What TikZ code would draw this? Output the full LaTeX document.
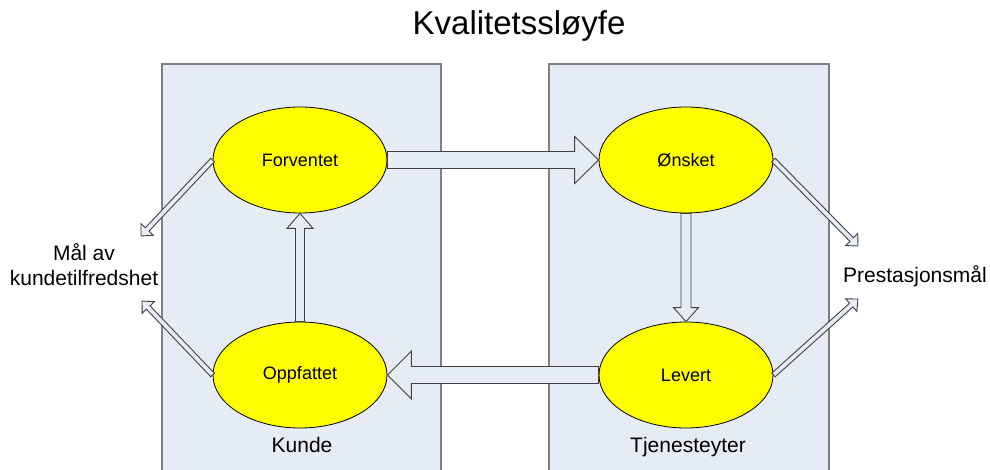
\documentclass[tikz,border=0pt]{standalone}
\usepackage{fontspec}
\setmainfont{Liberation Sans}
\usetikzlibrary{shapes.geometric,calc}

\definecolor{panelfill}{HTML}{E6ECF6}
\definecolor{panelline}{HTML}{808080}
\definecolor{arrowline}{HTML}{404040}
\definecolor{bubble}{HTML}{FFFF00}

\tikzset{
  panel/.style={draw=panelline, line width=1.2pt, fill=panelfill},
  bubblenode/.style={ellipse, draw=black, line width=0.8pt, fill=bubble,
    minimum width=174pt, minimum height=106pt, inner sep=0pt,
    font=\fontsize{18}{21}\selectfont},
  labeltext/.style={font=\fontsize{21}{25}\selectfont, inner sep=0pt, align=center},
  blockarrowstyle/.style={draw=arrowline, line width=0.9pt, fill=panelfill, line join=miter},
}

% Block arrow from #1 to #2: shaft half-width #3, head half-width #4, head length #5
\newcommand\blockarrow[5]{%
  \path[blockarrowstyle] let \p1=(#1), \p2=(#2),
      \n1={atan2(\y2-\y1,\x2-\x1)}, \n2={veclen(\x2-\x1,\y2-\y1)} in
    [shift={(\p1)}, rotate=\n1]
    (0,#3) -- ({\n2-#5},#3) -- ({\n2-#5},#4) -- ({\n2},0)
    -- ({\n2-#5},-#4) -- ({\n2-#5},-#3) -- (0,-#3) -- cycle;
}

\begin{document}
\begin{tikzpicture}[x=1pt,y=-1pt]
\useasboundingbox (0,0) rectangle (990,470);
\begin{scope}
\clip (0,0) rectangle (990,470);

% two role panels
\draw[panel] (162,64) rectangle (441,480);
\draw[panel] (549,64) rectangle (829,480);

% title
\node[font=\fontsize{33}{38}\selectfont, inner sep=0pt, anchor=base] (title) at (519,35) {Kvalitetssløyfe};

% the four expectation bubbles
\node[bubblenode] (forv) at (300,160) {Forventet};
\node[bubblenode] (onsk) at (686,160) {Ønsket};
\node[bubblenode] (oppf) at (300,375) {Oppfattet};
\node[bubblenode] (levr) at (686,375) {Levert};

% side labels
\node[labeltext, anchor=base] (kunde) at (302,452) {Kunde};
\node[labeltext, anchor=base] (tjen) at (688,452) {Tjenesteyter};
\node[labeltext] (maal) at (84,265) {Mål av\\kundetilfredshet};
\node[labeltext, anchor=base west] (prest) at (843,283) {Prestasjonsmål};

% free ends of the diagonal arrows
\coordinate (maalA) at (141,236);
\coordinate (maalB) at (142,301);
\coordinate (prestA) at (858,246);
\coordinate (prestB) at (858,299);

% wide block arrows around the loop
\blockarrow{forv.east}{onsk.west}{8.5}{23.5}{24}
\blockarrow{levr.west}{oppf.east}{8.5}{24}{24}
\blockarrow{onsk.south}{levr.north}{5}{12.5}{14}
\blockarrow{oppf.north}{forv.south}{4.5}{13}{15}

% thin arrows to the measures
\blockarrow{forv.west}{maalA}{2.5}{8.5}{9}
\blockarrow{oppf.west}{maalB}{2.5}{8.5}{9}
\blockarrow{onsk.east}{prestA}{2.5}{8.5}{9}
\blockarrow{levr.east}{prestB}{2.5}{8.5}{9}
\end{scope}
\end{tikzpicture}
\end{document}
